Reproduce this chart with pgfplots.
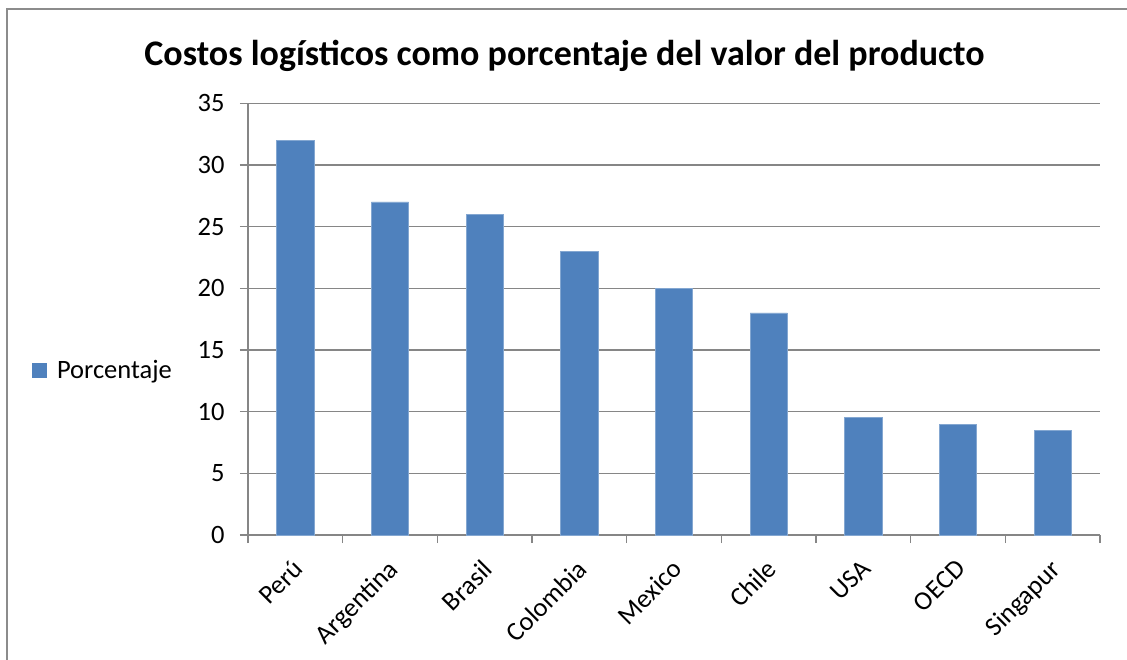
\documentclass[border=0pt]{standalone}
\usepackage{pgfplots}
\pgfplotsset{compat=1.18}
\usepackage{fontspec}
\setmainfont{Carlito}
\definecolor{barblue}{HTML}{4F81BD}
\definecolor{gridgray}{HTML}{868686}
\definecolor{framegray}{HTML}{8C8C8C}
\begin{document}
\begin{tikzpicture}[x=1pt,y=1pt]
\useasboundingbox (0,0) rectangle (1127,-659);
\fill[white] (0,0) rectangle (1127,-659);
\draw[framegray,line width=2pt] (7,-700) -- (7,-8.5) -- (1200,-8.5);
\node[anchor=base,font=\bfseries\fontsize{36}{42}\selectfont] at (564.5,-65) {Costos logísticos como porcentaje del valor del producto};
\begin{axis}[
  at={(248pt,-535pt)}, anchor=south west,
  scale only axis, width=852pt, height=431.7pt,
  xmin=-0.5, xmax=8.5, ymin=0, ymax=35,
  axis x line=bottom, axis y line=left,
  axis line style={gridgray,line width=1.3pt,-},
  ytick={0,5,...,35},
  ymajorgrids, grid style={gridgray,line width=1.3pt},
  xtick={-0.5,0.5,...,8.5},
  xticklabels={Perú,Argentina,Brasil,Colombia,Mexico,Chile,USA,OECD,Singapur},
  x tick label as interval,
  tick align=outside, major tick length=8pt,
  tick style={gridgray,line width=1.3pt},
  ticklabel style={font=\fontsize{26.5}{31}\selectfont},
  /pgf/number format/assume math mode=true,
  yticklabel style={xshift=-12pt},
  xticklabel style={rotate=45, anchor=north east, inner sep=2pt, yshift=-6pt, xshift=-11pt},
  legend style={at={(-0.2535,0.382)}, anchor=west, draw=none, fill=none, inner sep=0pt,
    column sep=8pt, font=\fontsize{26.5}{31}\selectfont},
  legend image code/.code={\fill[barblue] (0pt,-7pt) rectangle (14pt,7pt);},
]
\addplot[ybar, bar width=37.3pt, fill=barblue, draw=barblue!70!white, line width=0.8pt]
  coordinates {(0,32) (1,27) (2,26) (3,23) (4,20) (5,18) (6,9.5) (7,9) (8,8.5)};
\addlegendentry{Porcentaje}
\end{axis}
\end{tikzpicture}
\end{document}
